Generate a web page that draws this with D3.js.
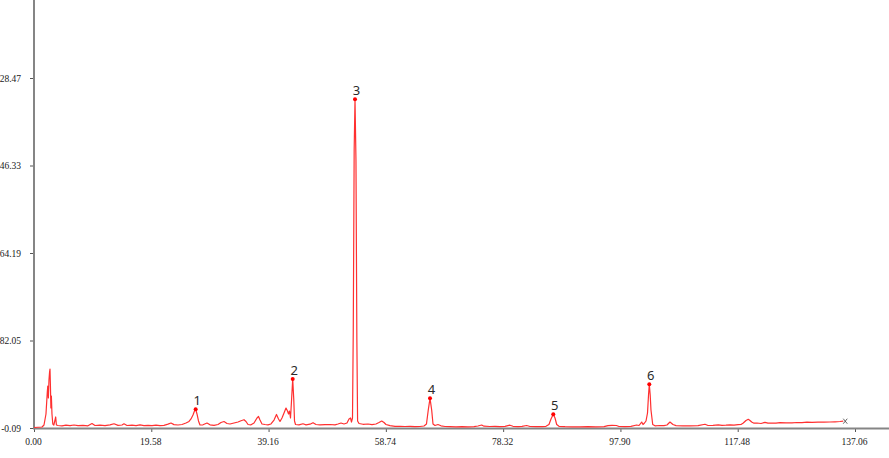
<!DOCTYPE html>
<html>
<head>
<meta charset="utf-8">
<script src="https://cdn.jsdelivr.net/npm/d3@7"></script>
<style>
  html, body { margin: 0; padding: 0; background: #fff; }
  svg { display: block; }
</style>
</head>
<body>
<svg id="chart" width="889" height="458"></svg>
<script>
// ---- data (time in min, signal) ----
const times = [
  0, 1.34, 1.67, 2.00, 2.22, 2.30, 2.40, 2.50, 2.60, 2.67, 2.74, 2.82, 2.90, 3.00, 3.14, 3.31, 3.51, 3.62, 3.74, 4.01,
  4.67, 5.34, 6.01, 6.68, 7.35, 8.18, 9.01, 9.68, 10.18, 11.02, 11.85, 12.69, 13.36, 14.02, 14.69, 15.02, 15.53, 16.36,
  17.03, 17.70, 18.36, 19.03, 19.70, 20.37, 21.03, 21.70, 22.37, 22.87, 23.37, 24.04, 24.71, 25.37, 25.88, 26.21, 26.54,
  26.79, 26.99, 27.21, 27.46, 27.71, 28.21, 28.88, 29.38, 30.05, 30.72, 31.22, 31.72, 32.22, 32.72, 33.39, 34.06, 34.56,
  35.06, 35.39, 35.73, 36.23, 36.73, 37.23, 37.48, 37.73, 38.06, 38.56, 39.06, 39.56, 40.07, 40.48, 40.82, 41.07, 41.40,
  41.74, 42.07, 42.32, 42.49, 42.65, 42.82, 42.95, 43.19, 43.37, 43.49, 43.66, 44.24, 44.91, 45.41, 46.08, 46.58, 47.08,
  47.74, 48.58, 49.41, 50.25, 50.75, 51.25, 51.75, 52.25, 52.59, 52.84, 53.00, 53.17, 53.30, 53.45, 53.59, 53.75, 53.90,
  54.02, 54.26, 54.92, 55.76, 56.43, 57.09, 57.59, 58.05, 58.43, 58.76, 59.43, 60.27, 61.10, 61.93, 62.77, 63.60, 64.44,
  65.11, 65.52, 65.82, 66.11, 66.39, 66.61, 66.94, 67.44, 67.94, 68.61, 69.45, 70.45, 71.45, 72.45, 73.45, 74.12, 74.74,
  75.12, 76.12, 76.96, 77.79, 78.63, 79.46, 79.96, 80.80, 81.47, 82.25, 82.80, 83.80, 84.81, 85.47, 85.97, 86.31, 86.69,
  86.98, 87.26, 87.64, 88.65, 89.81, 91.15, 92.48, 93.82, 95.16, 95.82, 96.49, 97.24, 97.66, 98.66, 99.66, 100.61, 101.00,
  101.45, 101.67, 101.92, 102.17, 102.42, 102.59, 102.72, 102.87, 103.00, 103.29, 103.67, 104.50, 105.17, 105.67, 106.17,
  106.67, 107.18, 108.34, 109.51, 110.85, 112.02, 112.52, 113.35, 114.24, 114.85, 115.52, 116.19, 116.86, 117.53, 118.03,
  118.41, 118.86, 119.24, 119.53, 119.81, 120.20, 120.70, 121.37, 122.03, 122.53, 123.20, 123.87, 124.54, 125.54, 126.54,
  127.38, 128.21, 129.04, 129.88, 130.88, 131.88, 132.88, 133.72, 134.55, 135.10
];
const signal = [
  0.01, 0.11, 0.52, 2.77, 7.26, 8.48, 6.03, 9.71, 11.34, 11.95, 8.69, 3.99, 6.44, 2.77, 0.73, 0.52, 1.54, 2.16, 0.52, 0.42,
  0.36, 0.48, 0.38, 0.52, 0.40, 0.46, 0.36, 0.83, 0.42, 0.48, 0.38, 0.56, 0.77, 0.44, 0.52, 0.77, 0.42, 0.48,
  0.40, 0.54, 0.40, 0.46, 0.38, 0.50, 0.40, 0.44, 0.69, 0.93, 0.60, 0.52, 0.62, 0.93, 1.24, 1.75, 2.56,
  3.38, 3.73, 2.77, 1.34, 0.52, 0.56, 0.93, 0.56, 0.46, 0.62, 1.03, 1.24, 0.83, 0.73, 0.93, 1.13, 1.38,
  1.60, 1.24, 0.62, 0.56, 0.93, 1.95, 2.26, 1.54, 0.73, 0.62, 0.56, 0.73, 1.54, 2.67, 1.75, 1.24, 1.95,
  2.97, 3.99, 3.38, 2.77, 3.38, 1.95, 4.60, 9.91, 5.62, 1.34, 0.62, 0.56, 0.77, 0.56, 0.69, 0.99, 0.62,
  0.56, 0.60, 0.62, 0.56, 0.73, 0.93, 0.73, 0.93, 1.75, 1.95, 1.13, 1.95, 19.91, 56.65, 67.00, 54.61, 17.87,
  1.34, 0.83, 0.67, 0.73, 0.60, 0.73, 1.03, 1.34, 1.03, 0.62, 0.40, 0.26, 0.24, 0.22, 0.24, 0.20, 0.22,
  0.32, 0.73, 3.58, 5.97, 3.58, 0.73, 0.42, 0.62, 0.36, 0.22, 0.20, 0.15, 0.18, 0.15, 0.20, 0.32, 0.52,
  0.28, 0.22, 0.26, 0.20, 0.24, 0.48, 0.26, 0.20, 0.26, 0.42, 0.22, 0.18, 0.20, 0.26, 0.62, 1.75, 2.71,
  1.95, 0.62, 0.26, 0.18, 0.15, 0.15, 0.18, 0.15, 0.20, 0.40, 0.46, 0.42, 0.22, 0.20, 0.24, 0.52, 0.42,
  1.13, 0.62, 0.93, 1.34, 2.97, 6.65, 8.83, 6.65, 3.58, 0.62, 0.36, 0.42, 0.40, 0.52, 1.13,
  0.62, 0.40, 0.36, 0.36, 0.40, 0.67, 0.42, 0.44, 0.56, 0.46, 0.48, 0.56, 0.50, 0.60, 0.62,
  0.93, 1.44, 1.69, 1.44, 1.13, 0.89, 0.93, 0.83, 1.07, 0.89, 0.93, 0.89, 0.99, 0.95, 0.97,
  1.03, 1.01, 1.09, 1.05, 1.09, 1.09, 1.13, 1.18, 1.24, 1.30
];
const peakLabels = ["1", "2", "3", "4", "5", "6"];
const peakTimes = [26.99, 43.19, 53.59, 66.11, 86.69, 102.72];
const peakValues = [3.73, 9.91, 67.00, 5.97, 2.71, 8.83];

const xTickValues = [0, 19.58, 39.16, 58.74, 78.32, 97.90, 117.48, 137.06];
const yTickValues = [-0.09, 17.77, 35.63, 53.49, 71.35];
const yTickLabels = ["-0.09", "82.05", "64.19", "46.33", "28.47"];

// ---- layout ----
const W = 889, H = 458;
const x0 = 34, x1 = 855, yBase = 428, yTop = 78;

const svg = d3.select("#chart");
const x = d3.scaleLinear().domain([0, 137.06]).range([x0, x1]);
const y = d3.scaleLinear().domain([-0.09, 71.35]).range([yBase, yTop]);

const axisColor = "#858585";
const tickFont = "'Liberation Serif', 'DejaVu Serif', serif";

// X axis
const xAxis = d3.axisBottom(x).tickValues(xTickValues).tickSize(4).tickSizeOuter(0)
  .tickFormat(d3.format(".2f"));
const gx = svg.append("g").attr("transform", `translate(0,${yBase})`).call(xAxis);
gx.select(".domain").remove();
gx.selectAll(".tick line").attr("stroke", "#555").attr("stroke-width", 1);
gx.selectAll(".tick text").attr("font-family", tickFont).attr("font-size", 9.5)
  .attr("fill", "#1a1a1a").attr("y", 10).attr("dy", "0.71em").attr("dx", -1);
svg.append("line").attr("x1", x0).attr("x2", W).attr("y1", yBase + 0.5).attr("y2", yBase + 0.5)
  .attr("stroke", axisColor).attr("stroke-width", 2);

// Y axis
const yAxis = d3.axisLeft(y).tickValues(yTickValues).tickSize(4).tickSizeOuter(0)
  .tickFormat((d, i) => yTickLabels[i]);
const gy = svg.append("g").attr("transform", `translate(${x0},0)`).call(yAxis);
gy.select(".domain").remove();
gy.selectAll(".tick line").attr("stroke", "#555").attr("stroke-width", 1);
gy.selectAll(".tick text").attr("font-family", tickFont).attr("font-size", 9.5)
  .attr("fill", "#1a1a1a").attr("x", -13);
svg.append("line").attr("x1", x0).attr("x2", x0).attr("y1", 0).attr("y2", yBase + 1.5)
  .attr("stroke", axisColor).attr("stroke-width", 2);

// Trace
const pts = times.map((t, i) => [t, signal[i]]);
const line = d3.line().x(d => x(d[0])).y(d => y(d[1]));
svg.append("path").datum(pts).attr("d", line)
  .attr("fill", "none").attr("stroke", "#ff3030").attr("stroke-width", 1.2)
  .attr("stroke-linejoin", "round");

// End marker
const last = pts[pts.length - 1];
const ex = x(last[0]) + 2, ey = y(last[1]);
svg.append("path")
  .attr("d", `M${ex - 2},${ey - 2.5}L${ex + 2},${ey + 2.5}M${ex + 2},${ey - 2.5}L${ex - 2},${ey + 2.5}`)
  .attr("stroke", "#555").attr("stroke-width", 0.9).attr("fill", "none");

// Peaks
const peaks = peakLabels.map((l, i) => ({ l, t: peakTimes[i], v: peakValues[i] }));
svg.selectAll("circle.peak").data(peaks).join("circle")
  .attr("class", "peak").attr("cx", d => x(d.t)).attr("cy", d => y(d.v)).attr("r", 2)
  .attr("fill", "#ff0000");
svg.selectAll("text.plabel").data(peaks).join("text")
  .attr("class", "plabel").attr("x", d => x(d.t) + 1.5).attr("y", d => y(d.v) - 4)
  .attr("text-anchor", "middle").attr("font-family", "'Noto Sans', 'Open Sans', sans-serif")
  .attr("font-size", 13).attr("fill", "#2a2a2a").text(d => d.l);
</script>
</body>
</html>
